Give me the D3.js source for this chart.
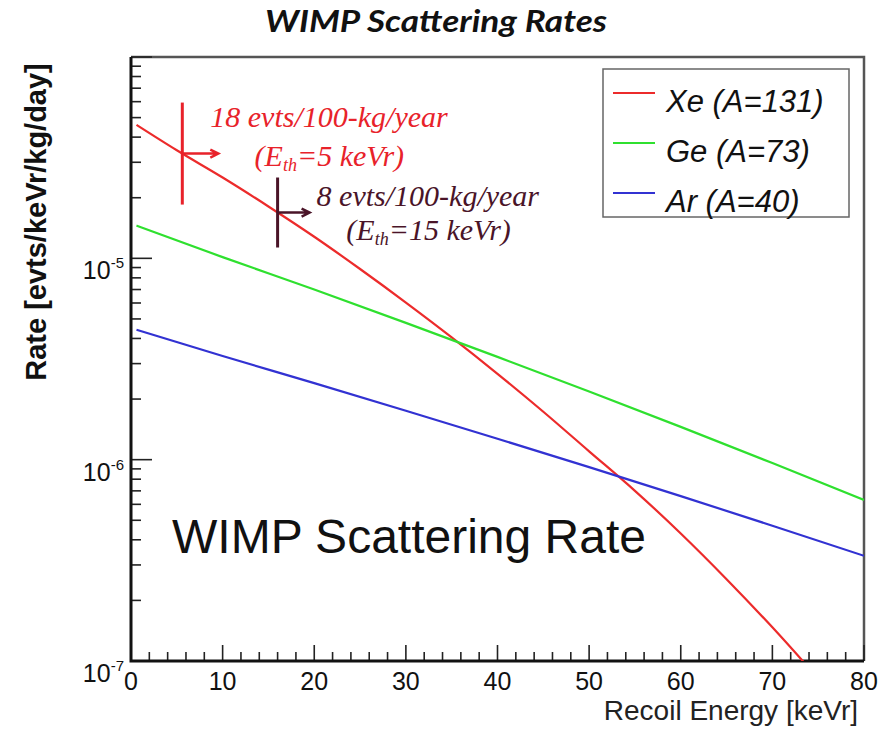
<!DOCTYPE html>
<html>
<head>
<meta charset="utf-8">
<script src="https://cdn.jsdelivr.net/npm/d3@7"></script>
<style>
  body { margin: 0; background: #fff; }
  svg { display: block; }
  text { font-family: "Liberation Sans", Arial, sans-serif; fill: #111; }
</style>
</head>
<body>
<svg id="chart"></svg>
<script>
// values
const xeEnergy = [0.6, 5, 10, 15, 20, 25, 30, 35, 40, 45, 50, 55, 60, 65, 70, 75];
const xeRate = [4.6e-5, 3.44e-5, 2.52e-5, 1.81e-5, 1.28e-5, 8.85e-6, 6.03e-6, 4.05e-6,
  2.67e-6, 1.73e-6, 1.1e-6, 7.0e-7, 4.3e-7, 2.55e-7, 1.47e-7, 8.2e-8];
const geArEnergy = [0.6, 10, 20, 30, 40, 50, 60, 70, 80];
const geRate = [1.455e-5, 1.014e-5, 7.0e-6, 4.78e-6, 3.24e-6, 2.18e-6, 1.455e-6, 9.62e-7, 6.31e-7];
const arRate = [4.42e-6, 3.27e-6, 2.4e-6, 1.75e-6, 1.27e-6, 9.18e-7, 6.59e-7, 4.7e-7, 3.33e-7];
const seriesNames = ['Xe (A=131)', 'Ge (A=73)', 'Ar (A=40)'];
const seriesColors = ['#ec2b2b', '#2fe02f', '#3232d2'];
const xTicks = [0, 10, 20, 30, 40, 50, 60, 70, 80];
const yTickExp = [-5, -6, -7];
// thresholds marked on the Xe curve
const markerEnergy = [5.6, 16];
const markerLine1 = ['18 evts/100-kg/year', '8 evts/100-kg/year'];
const markerLine2 = ['=5 keVr)', '=15 keVr)'];
const markerColors = ['#e8222a', '#4a1428'];

const width = 891;
const height = 732;
const margin = { top: 57, right: 27, bottom: 71, left: 131 };

const svg = d3.select('#chart').attr('width', width).attr('height', height);

const x = d3.scaleLinear().domain([0, 80]).range([margin.left, width - margin.right]);
const y = d3.scaleLog().domain([1e-7, 1e-4]).range([height - margin.bottom, margin.top]);

svg.append('defs').append('clipPath').attr('id', 'plot')
  .append('rect')
  .attr('x', x(0)).attr('y', y(1e-4))
  .attr('width', x(80) - x(0)).attr('height', y(1e-7) - y(1e-4));

// title
svg.append('text')
  .attr('x', 265).attr('y', 32)
  .attr('textLength', 342).attr('lengthAdjust', 'spacingAndGlyphs')
  .style('font-family', 'Lato, "Liberation Sans", sans-serif')
  .style('font-style', 'italic').style('font-weight', 'bold')
  .style('font-size', '31px')
  .text('WIMP Scattering Rates');

// frame: top/right thin grey
svg.append('path')
  .attr('d', `M${x(0)},${y(1e-4)}H${x(80)}V${y(1e-7)}`)
  .attr('fill', 'none').attr('stroke', '#555').attr('stroke-width', 2.5);

// x axis ticks (inside)
const xMinor = d3.range(0, 81, 2);
svg.append('g').selectAll('line')
  .data(xMinor).enter().append('line')
  .attr('x1', d => x(d)).attr('x2', d => x(d))
  .attr('y1', y(1e-7)).attr('y2', d => y(1e-7) - (d % 10 === 0 ? 16 : 9))
  .attr('stroke', '#222').attr('stroke-width', 1.6);

svg.append('g').selectAll('text')
  .data(xTicks).enter().append('text')
  .attr('x', d => x(d)).attr('y', 690)
  .attr('text-anchor', 'middle')
  .style('font-size', '25px')
  .text(d => d);

// y axis ticks (inside)
const yMinor = [];
[-7, -6, -5].forEach(e => {
  for (let m = 1; m <= 9; m++) yMinor.push({ v: m * Math.pow(10, e), major: m === 1 });
});
yMinor.push({ v: 1e-4, major: true });
svg.append('g').selectAll('line')
  .data(yMinor).enter().append('line')
  .attr('x1', x(0)).attr('x2', d => x(0) + (d.major ? 21 : 10))
  .attr('y1', d => y(d.v)).attr('y2', d => y(d.v))
  .attr('stroke', '#222').attr('stroke-width', 1.6);

const yLab = svg.append('g').selectAll('text')
  .data(yTickExp).enter().append('text')
  .attr('x', 124).attr('y', d => y(Math.pow(10, d)) + 21)
  .attr('text-anchor', 'end')
  .style('font-size', '25px');
yLab.append('tspan').text('10');
yLab.append('tspan')
  .attr('dy', -11).style('font-size', '15px')
  .text(d => '-' + (-d));

// main axis lines
svg.append('path')
  .attr('d', `M${x(0)},${y(1e-4)}V${y(1e-7)}H${x(80)}`)
  .attr('fill', 'none').attr('stroke', '#111').attr('stroke-width', 3);

// axis titles
svg.append('text')
  .attr('x', 858).attr('y', 720)
  .attr('text-anchor', 'end')
  .style('font-size', '28px')
  .style('fill', '#222')
  .text('Recoil Energy [keVr]');

svg.append('text')
  .attr('transform', 'translate(46,222) rotate(-90)')
  .attr('text-anchor', 'middle')
  .style('font-size', '29px').style('font-weight', 'bold')
  .text('Rate [evts/keVr/kg/day]');

// curves
const line = d3.line()
  .x(d => x(d[0]))
  .y(d => y(d[1]))
  .curve(d3.curveMonotoneX);

const series = [
  d3.zip(xeEnergy, xeRate),
  d3.zip(geArEnergy, geRate),
  d3.zip(geArEnergy, arRate),
];

svg.append('g').attr('clip-path', 'url(#plot)')
  .selectAll('path')
  .data(series).enter().append('path')
  .attr('d', line)
  .attr('fill', 'none')
  .attr('stroke', (d, i) => seriesColors[i])
  .attr('stroke-width', 2.2);

// threshold markers
const xeAt = e => {
  const logs = xeRate.map(Math.log10);
  return Math.pow(10, d3.scaleLinear().domain(xeEnergy).range(logs)(e));
};
const markerSize = [[51, 36, 28, -27, 147, 12], [35, 32, 39, -7, 151, 27]];

markerEnergy.forEach((e, i) => {
  const cx = x(e);
  const cy = y(xeAt(e));
  const [half, arrow, tx, ty, t2x, t2y] = markerSize[i];
  const c = markerColors[i];
  const g = svg.append('g');
  g.append('line')
    .attr('x1', cx).attr('x2', cx).attr('y1', cy - half).attr('y2', cy + half)
    .attr('stroke', c).attr('stroke-width', 3);
  g.append('path')
    .attr('d', `M${cx},${cy}H${cx + arrow}M${cx + arrow - 8},${cy - 4}L${cx + arrow},${cy}L${cx + arrow - 8},${cy + 4}`)
    .attr('fill', 'none').attr('stroke', c).attr('stroke-width', 2.5);
  g.append('text')
    .attr('x', cx + tx).attr('y', cy + ty)
    .style('font-family', '"Liberation Serif", serif').style('font-style', 'italic')
    .style('font-size', '30px').style('fill', c)
    .text(markerLine1[i]);
  const t2 = g.append('text')
    .attr('x', cx + t2x).attr('y', cy + t2y)
    .attr('text-anchor', 'middle')
    .style('font-family', '"Liberation Serif", serif').style('font-style', 'italic')
    .style('font-size', '30px').style('fill', c);
  t2.append('tspan').text('(E');
  t2.append('tspan').attr('dy', 5).style('font-size', '18px').text('th');
  t2.append('tspan').attr('dy', -5).text(markerLine2[i]);
});

// legend
const leg = svg.append('g');
leg.append('rect')
  .attr('x', 603).attr('y', 69).attr('width', 246).attr('height', 148)
  .attr('fill', '#fff').attr('stroke', '#666').attr('stroke-width', 1.5);
seriesNames.forEach((n, i) => {
  const ly = 93 + i * 50;
  leg.append('line')
    .attr('x1', 613).attr('x2', 655).attr('y1', ly).attr('y2', ly)
    .attr('stroke', seriesColors[i]).attr('stroke-width', 2.2);
  leg.append('text')
    .attr('x', 666).attr('y', ly + 19)
    .style('font-size', '31px').style('font-style', 'italic')
    .text(n);
});

// overlay caption
svg.append('text')
  .attr('x', 172).attr('y', 553)
  .style('font-size', '48px')
  .text('WIMP Scattering Rate');
</script>
</body>
</html>
